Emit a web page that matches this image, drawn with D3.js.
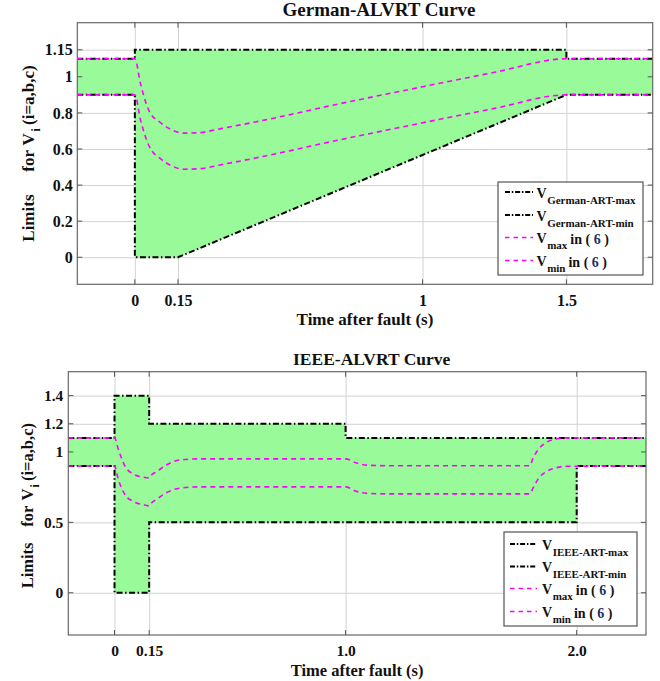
<!DOCTYPE html>
<html><head><meta charset="utf-8">
<script src="https://cdn.jsdelivr.net/npm/d3@7"></script>
<style>body{margin:0;background:#fff} svg text{font-family:'Liberation Serif','Times New Roman',Times,serif;font-weight:bold;}</style>
</head><body>
<svg id="c" width="660" height="681" xmlns="http://www.w3.org/2000/svg"></svg>
<script>
// ---------------- data ----------------
const germanTime = [-0.2, 0, 0, 0.15, 1.5, 1.5, 1.8];
const germanMax  = [1.1, 1.1, 1.15, 1.15, 1.15, 1.1, 1.1];
const germanMin  = [0.9, 0.9, 0, 0, 0.9, 0.9, 0.9];
const germanVTime = [-0.2, 0, 0.02, 0.05, 0.09, 0.13, 0.17, 0.22, 0.3, 0.45, 0.68, 1.0, 1.25, 1.5, 1.8];
const germanVmax  = [1.1, 1.1, 0.96, 0.81, 0.745, 0.705, 0.688, 0.69, 0.713, 0.76, 0.84, 0.945, 1.025, 1.1, 1.1];
const germanVmin  = [0.9, 0.9, 0.76, 0.615, 0.545, 0.505, 0.488, 0.49, 0.513, 0.56, 0.64, 0.745, 0.825, 0.9, 0.9];
const germanXTicks = [0, 0.15, 1, 1.5];
const germanXLabels = ["0", "0.15", "1", "1.5"];
const germanYTicks = [0, 0.2, 0.4, 0.6, 0.8, 1, 1.15];
const germanYLabels = ["0", "0.2", "0.4", "0.6", "0.8", "1", "1.15"];

const ieeeTime = [-0.2, 0, 0, 0.15, 0.15, 1.0, 1.0, 2.0, 2.0, 2.3];
const ieeeMax  = [1.1, 1.1, 1.4, 1.4, 1.2, 1.2, 1.1, 1.1, 1.1, 1.1];
const ieeeMin  = [0.9, 0.9, 0, 0, 0.5, 0.5, 0.5, 0.5, 0.9, 0.9];
const ieeeVTime = [-0.2, 0, 0.017, 0.046, 0.082, 0.125, 0.15, 0.16, 0.183, 0.226, 0.284, 0.37, 1.0, 1.047, 1.105, 1.2, 1.797, 1.811, 1.833, 1.869, 1.912, 1.95, 2.3];
const ieeeVmax  = [1.1, 1.1, 1.016, 0.897, 0.843, 0.821, 0.816, 0.836, 0.861, 0.909, 0.944, 0.951, 0.951, 0.921, 0.905, 0.902, 0.902, 0.956, 1.016, 1.068, 1.092, 1.1, 1.1];
const ieeeVmin  = [0.9, 0.9, 0.802, 0.695, 0.648, 0.624, 0.617, 0.637, 0.665, 0.712, 0.743, 0.752, 0.752, 0.72, 0.705, 0.702, 0.702, 0.743, 0.807, 0.861, 0.888, 0.898, 0.9];
const ieeeXTicks = [0, 0.15, 1.0, 2.0];
const ieeeXLabels = ["0", "0.15", "1.0", "2.0"];
const ieeeYTicks = [0, 0.5, 1, 1.2, 1.4];
const ieeeYLabels = ["0", "0.5", "1", "1.2", "1.4"];

const germanLegend = ["German-ART-max", "German-ART-min", "max", "min"];
const ieeeLegend = ["IEEE-ART-max", "IEEE-ART-min", "max", "min"];

// ---------------- style ----------------
const FONT = "'Liberation Serif','Times New Roman',Times,serif";
const GREEN = "#98fa98";
const MAGENTA = "#ff00ff";
const DASHDOT = "6,2.5,1.5,2.5";
const DASH = "5,4";

const svg = d3.select("#c");

function txt(sel, size) {
  return sel.style("font-family", FONT).style("font-weight", "bold").style("font-size", size + "px").attr("fill", "#111");
}

function panel(cfg) {
  const g = svg.append("g");
  const x = d3.scaleLinear().domain(cfg.xDomain).range([cfg.left, cfg.right]);
  const y = d3.scaleLinear().domain(cfg.yDomain).range([cfg.bottom, cfg.top]);
  const w = cfg.right - cfg.left, h = cfg.bottom - cfg.top;
  const clipId = "clip" + cfg.id;
  g.append("clipPath").attr("id", clipId).append("rect")
    .attr("x", cfg.left).attr("y", cfg.top).attr("width", w).attr("height", h);

  // grid
  const gy = g.append("g").attr("transform", `translate(${cfg.left},0)`)
    .call(d3.axisLeft(y).tickValues(cfg.yTicks).tickSize(-w).tickFormat(""));
  const gx = g.append("g").attr("transform", `translate(0,${cfg.bottom})`)
    .call(d3.axisBottom(x).tickValues(cfg.xTicks).tickSize(-h).tickFormat(""));
  [gy, gx].forEach(a => {
    a.select(".domain").remove();
    a.selectAll("line").attr("stroke", "#d2d2d2").attr("stroke-width", 1);
  });

  const plot = g.append("g").attr("clip-path", `url(#${clipId})`);
  const idx = d3.range(cfg.T.length);
  plot.append("path").datum(idx)
    .attr("d", d3.area().x(i => x(cfg.T[i])).y0(i => y(cfg.Min[i])).y1(i => y(cfg.Max[i])))
    .attr("fill", GREEN).attr("stroke", "none");

  const stepLine = arr => d3.line().x(i => x(cfg.T[i])).y(i => y(arr[i]));
  [cfg.Max, cfg.Min].forEach(arr => {
    plot.append("path").datum(idx).attr("d", stepLine(arr))
      .attr("fill", "none").attr("stroke", "#000").attr("stroke-width", 2)
      .attr("stroke-dasharray", DASHDOT);
  });
  const vidx = d3.range(cfg.VT.length);
  [cfg.Vmax, cfg.Vmin].forEach(arr => {
    plot.append("path").datum(vidx)
      .attr("d", d3.line().curve(d3.curveMonotoneX).x(i => x(cfg.VT[i])).y(i => y(arr[i])))
      .attr("fill", "none").attr("stroke", MAGENTA).attr("stroke-width", 1.6)
      .attr("stroke-dasharray", DASH);
  });

  // box
  g.append("rect").attr("x", cfg.left).attr("y", cfg.top).attr("width", w).attr("height", h)
    .attr("fill", "none").attr("stroke", "#666").attr("stroke-width", 1.2);
  // inward ticks
  const tl = 5;
  cfg.yTicks.forEach(v => {
    g.append("line").attr("x1", cfg.left).attr("x2", cfg.left + tl).attr("y1", y(v)).attr("y2", y(v)).attr("stroke", "#555");
    g.append("line").attr("x1", cfg.right).attr("x2", cfg.right - tl).attr("y1", y(v)).attr("y2", y(v)).attr("stroke", "#555");
  });
  cfg.xTicks.forEach(v => {
    g.append("line").attr("x1", x(v)).attr("x2", x(v)).attr("y1", cfg.bottom).attr("y2", cfg.bottom - tl).attr("stroke", "#555");
    g.append("line").attr("x1", x(v)).attr("x2", x(v)).attr("y1", cfg.top).attr("y2", cfg.top + tl).attr("stroke", "#555");
  });

  // tick labels
  const ax = g.append("g").attr("transform", `translate(${cfg.left},0)`)
    .call(d3.axisLeft(y).tickValues(cfg.yTicks).tickSize(0).tickPadding(cfg.yPad)
      .tickFormat((d, i) => cfg.yLabels[i]));
  const bx = g.append("g").attr("transform", `translate(0,${cfg.bottom})`)
    .call(d3.axisBottom(x).tickValues(cfg.xTicks).tickSize(0).tickPadding(cfg.xPad)
      .tickFormat((d, i) => cfg.xLabels[i]));
  [ax, bx].forEach(a => {
    a.attr("font-family", null).attr("font-size", null);
    a.select(".domain").remove();
    txt(a.selectAll("text"), cfg.tickFs);
  });

  // title
  txt(g.append("text").attr("x", cfg.titleX).attr("y", cfg.titleY).attr("text-anchor", "middle"), cfg.titleFs)
    .text(cfg.title);
  // x label
  txt(g.append("text").attr("x", (cfg.left + cfg.right) / 2).attr("y", cfg.xLabelY).attr("text-anchor", "middle"), cfg.labelFs)
    .text("Time after fault (s)");
  // y label (rotated pieces)
  const yl = g.append("g").attr("transform", "rotate(-90)");
  const L = cfg.yLab;
  txt(yl.append("text").attr("x", -L.limits).attr("y", L.base), cfg.labelFs).text("Limits");
  txt(yl.append("text").attr("x", -L.for_).attr("y", L.base), cfg.labelFs).text("for");
  txt(yl.append("text").attr("x", -L.v).attr("y", L.base), cfg.labelFs).text("V");
  txt(yl.append("text").attr("x", -L.sub).attr("y", L.base + 6), cfg.labelFs * 0.7).text("i");
  txt(yl.append("text").attr("x", -L.paren).attr("y", L.base), cfg.labelFs).text("(i=a,b,c)");

  // legend
  const lg = cfg.legend;
  g.append("rect").attr("x", lg.x0).attr("y", lg.y0).attr("width", lg.x1 - lg.x0).attr("height", lg.y1 - lg.y0)
    .attr("fill", "#fff").attr("stroke", "#444").attr("stroke-width", 1.1);
  cfg.legendSubs.forEach((sub, i) => {
    const ry = lg.rows[i];
    const black = i < 2;
    g.append("line").attr("x1", lg.lx0).attr("x2", lg.lx1).attr("y1", ry).attr("y2", ry)
      .attr("stroke", black ? "#000" : MAGENTA).attr("stroke-width", black ? 2 : 1.6)
      .attr("stroke-dasharray", black ? "5,1.8,1.5,1.8" : "4.5,4");
    const tv = txt(g.append("text").attr("x", lg.tx).attr("y", ry + 5.5), lg.fs).text("V");
    const wv = tv.node().getComputedTextLength();
    const ts = txt(g.append("text").attr("x", lg.tx + wv + 0.5).attr("y", ry + 11.5), lg.subFs).text(sub);
    if (!black) {
      const ws = ts.node().getComputedTextLength();
      const tt = txt(g.append("text").attr("x", lg.tx + wv + ws + 3.5).attr("y", ry + 6.5), lg.fs)
        .attr("xml:space", "preserve");
      tt.append("tspan").text("in ( ");
      tt.append("tspan").attr("fill", "#1c2f66").text("6");
      tt.append("tspan").text(" )");
    }
  });
}

panel({
  id: "A", left: 77.3, right: 652.7, top: 22.7, bottom: 284.3,
  xDomain: [-0.2, 1.8], yDomain: [-0.15, 1.3],
  xTicks: germanXTicks, xLabels: germanXLabels, yTicks: germanYTicks, yLabels: germanYLabels,
  T: germanTime, Max: germanMax, Min: germanMin,
  VT: germanVTime, Vmax: germanVmax, Vmin: germanVmin,
  yPad: 4.5, xPad: 10, tickFs: 16,
  title: "German-ALVRT Curve", titleX: 379, titleY: 15.5, titleFs: 19,
  xLabelY: 324.5, labelFs: 17,
  yLab: { base: 33.5, limits: 241.7, for_: 171.7, v: 145.5, sub: 131.5, paren: 125 },
  legend: { x0: 498, x1: 643, y0: 182, y1: 275, rows: [192, 215, 237.5, 260.5], lx0: 505, lx1: 533, tx: 536.5, fs: 14, subFs: 11 },
  legendSubs: germanLegend
});

panel({
  id: "B", left: 68.3, right: 646, top: 371.7, bottom: 635,
  xDomain: [-0.2, 2.3], yDomain: [-0.3, 1.57],
  xTicks: ieeeXTicks, xLabels: ieeeXLabels, yTicks: ieeeYTicks, yLabels: ieeeYLabels,
  T: ieeeTime, Max: ieeeMax, Min: ieeeMin,
  VT: ieeeVTime, Vmax: ieeeVmax, Vmin: ieeeVmin,
  yPad: 5, xPad: 9.5, tickFs: 15.5,
  title: "IEEE-ALVRT Curve", titleX: 371.7, titleY: 365, titleFs: 17.5,
  xLabelY: 676, labelFs: 16.5,
  yLab: { base: 33, limits: 588.3, for_: 526.7, v: 500.5, sub: 487.5, paren: 481 },
  legend: { x0: 504, x1: 637, y0: 532, y1: 626, rows: [544, 566.5, 588.5, 611.5], lx0: 510, lx1: 537, tx: 542, fs: 14, subFs: 11 },
  legendSubs: ieeeLegend
});
</script>
</body></html>
